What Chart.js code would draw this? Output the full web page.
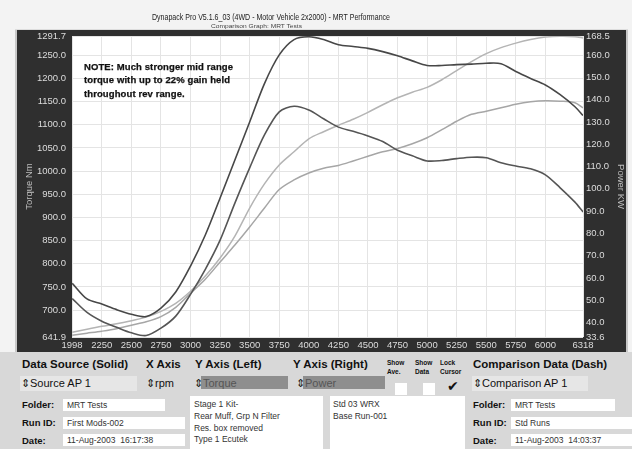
<!DOCTYPE html>
<html><head><meta charset="utf-8">
<script src="https://cdn.jsdelivr.net/npm/chart.js@4.4.0/dist/chart.umd.min.js"></script>
<style>
html,body{margin:0;padding:0;width:632px;height:449px;overflow:hidden;background:#f3f3f3;font-family:"Liberation Sans",Arial,sans-serif;}
#wrap{position:relative;width:632px;height:449px;}
#c{position:absolute;left:0;top:0;}
.t{position:absolute;white-space:nowrap;line-height:1;color:#111;}
.b{font-weight:bold;}
.box{position:absolute;background:#fff;}
.lbox{position:absolute;background:#e6e6e6;}
.gbox{position:absolute;background:#8e8e8e;}
#panel{position:absolute;left:0;top:352px;width:632px;height:97px;background:#d8d8d8;}
.sq{position:absolute;background:#fff;width:12px;height:12px;}
.sc{display:inline-block;transform-origin:0 50%;}
</style></head>
<body><div id="wrap">
<canvas id="c" width="632" height="449"></canvas>

<div class="t" id="ttl" style="left:152px;top:11.5px;font-size:9.5px;color:#222;"><span class="sc" data-w="238">Dynapack Pro V5.1.6_03 (4WD - Motor Vehicle 2x2000) - MRT Performance</span></div>
<div class="t" id="sub" style="left:211px;top:23.5px;font-size:5.5px;color:#444;"><span class="sc" data-w="91">Comparison Graph: MRT Tests</span></div>

<div class="t b" style="left:84px;top:60px;font-size:9.5px;line-height:13.3px;color:#111;letter-spacing:0.1px;-webkit-text-stroke:0.25px #111;">NOTE: Much stronger mid range<br>torque with up to 22% gain held<br>throughout rev range.</div>

<div id="panel"></div>
<!-- row 1 headings -->
<div class="t b" style="left:22px;top:359px;font-size:11.5px;">Data Source (Solid)</div>
<div class="t b" style="left:146px;top:359px;font-size:11.5px;">X Axis</div>
<div class="t b" style="left:195px;top:359px;font-size:11.5px;">Y Axis (Left)</div>
<div class="t b" style="left:293px;top:359px;font-size:11.5px;">Y Axis (Right)</div>
<div class="t b" style="left:387px;top:358px;font-size:6.5px;line-height:9px;">Show<br>Ave.</div>
<div class="t b" style="left:415px;top:358px;font-size:6.5px;line-height:9px;">Show<br>Data</div>
<div class="t b" style="left:440px;top:358px;font-size:6.5px;line-height:9px;">Lock<br>Cursor</div>
<div class="t b" style="left:473px;top:359px;font-size:11.5px;">Comparison Data (Dash)</div>
<!-- row 2 -->
<div class="lbox" style="left:20px;top:376px;width:117px;height:15px;"></div>
<div class="t" style="left:21px;top:378px;font-size:11px;">⇕Source AP 1</div>
<div class="t" style="left:146px;top:378px;font-size:11px;">⇕rpm</div>
<div class="gbox" style="left:201px;top:376px;width:87px;height:13px;"></div>
<div class="t" style="left:194px;top:378px;font-size:11px;"><span>⇕</span><span style="color:#555;">Torque</span></div>
<div class="gbox" style="left:303px;top:376px;width:82px;height:13px;"></div>
<div class="t" style="left:296px;top:378px;font-size:11px;"><span>⇕</span><span style="color:#555;">Power</span></div>
<div class="sq" style="left:395px;top:383px;"></div>
<div class="sq" style="left:423px;top:383px;"></div>
<div class="t" style="left:447px;top:379px;font-size:14px;font-family:'DejaVu Sans';color:#111;">✔</div>
<div class="lbox" style="left:472px;top:376px;width:116px;height:15px;"></div>
<div class="t" style="left:473px;top:378px;font-size:11px;">⇕Comparison AP 1</div>
<!-- left info -->
<div class="t b" style="left:22px;top:400px;font-size:9.5px;">Folder:</div>
<div class="box" style="left:63px;top:399px;width:102px;height:12px;"></div>
<div class="t" style="left:67px;top:401px;font-size:8.5px;color:#333;">MRT Tests</div>
<div class="t b" style="left:22px;top:418px;font-size:9.5px;">Run ID:</div>
<div class="box" style="left:63px;top:417px;width:122px;height:12px;"></div>
<div class="t" style="left:67px;top:419px;font-size:8.5px;color:#333;">First Mods-002</div>
<div class="t b" style="left:22px;top:436px;font-size:9.5px;">Date:</div>
<div class="box" style="left:63px;top:434px;width:122px;height:12px;"></div>
<div class="t" style="left:67px;top:436px;font-size:8.5px;color:#333;">11-Aug-2003&nbsp; 16:17:38</div>
<!-- notes boxes -->
<div class="box" style="left:190px;top:396px;width:133px;height:53px;"></div>
<div class="t" style="left:194px;top:399px;font-size:8.5px;line-height:11.8px;color:#333;">Stage 1 Kit-<br>Rear Muff, Grp N Filter<br>Res. box removed<br>Type 1 Ecutek</div>
<div class="box" style="left:330px;top:396px;width:135px;height:53px;"></div>
<div class="t" style="left:333px;top:399px;font-size:8.5px;line-height:11.8px;color:#333;">Std 03 WRX<br>Base Run-001</div>
<!-- right info -->
<div class="t b" style="left:473px;top:400px;font-size:9.5px;">Folder:</div>
<div class="box" style="left:511px;top:399px;width:104px;height:12px;"></div>
<div class="t" style="left:515px;top:401px;font-size:8.5px;color:#333;">MRT Tests</div>
<div class="t b" style="left:473px;top:418px;font-size:9.5px;">Run ID:</div>
<div class="box" style="left:511px;top:417px;width:121px;height:12px;"></div>
<div class="t" style="left:515px;top:419px;font-size:8.5px;color:#333;">Std Runs</div>
<div class="t b" style="left:473px;top:436px;font-size:9.5px;">Date:</div>
<div class="box" style="left:511px;top:434px;width:121px;height:12px;"></div>
<div class="t" style="left:515px;top:436px;font-size:8.5px;color:#333;">11-Aug-2003&nbsp; 14:03:37</div>
</div>
<script>
// ---- data ----
const rpm = [2000,2125,2250,2375,2500,2625,2750,2875,3000,3125,3250,3375,3500,3625,3750,3875,4000,4125,4250,4375,4500,4625,4750,4875,5000,5125,5250,5375,5500,5625,5750,5875,6000,6125,6250,6318];
const torqueSource = [758,724,713,701,691,686,704,739,795,862,942,1024,1106,1189,1251,1284,1290,1284,1273,1269,1265,1258,1249,1238,1228,1228,1230,1231,1233,1232,1215,1200,1186,1165,1139,1120];
const torqueComp = [725,695,676,663,651,645,661,687,734,788,851,931,1007,1078,1128,1140,1132,1113,1095,1086,1076,1064,1045,1033,1022,1023,1027,1030,1029,1018,1011,1005,992,964,933,912];
const powerSource = [35.7,37.1,38.4,39.5,40.9,42.5,45.1,48.7,54.1,60.9,69.0,78.8,91.4,102.2,110.7,116.6,122.4,125.6,128.5,131.2,134.3,137.7,140.8,143.3,145.5,148.9,153.0,157.0,160.6,163.3,165.3,166.9,168.0,168.4,168.2,167.6];
const powerComp = [34.4,35.3,36.2,37.3,38.9,40.4,42.7,46.9,53.2,59.5,67.2,74.8,82.9,91.4,99.7,104.0,107.1,109.2,110.5,112.5,114.6,116.6,118.1,120.2,122.9,126.5,130.3,133.4,134.8,136.3,137.9,139.0,139.5,139.3,138.6,136.3];
const xTicks = [1998,2250,2500,2750,3000,3250,3500,3750,4000,4250,4500,4750,5000,5250,5500,5750,6000,6318];
const leftTicks = [641.9,700,750,800,850,900,950,1000,1050,1100,1150,1200,1250,1291.7];
const rightTicks = [33.6,40,50,60,70,80,90,100,110,120,130,140,150,160,168.5];

// fit condensed titles
document.querySelectorAll('.sc').forEach(s=>{
  const w = s.getBoundingClientRect().width;
  s.style.transform = 'scaleX(' + (parseFloat(s.dataset.w)/w) + ')';
});

const framePlugin = {
  id:'frame',
  beforeDraw(chart){
    const {ctx, chartArea:a} = chart;
    ctx.save();
    ctx.fillStyle = '#c8c8c8';
    ctx.fillRect(a.left-57, a.top-6.5, (a.right+45)-(a.left-57), (a.bottom+17)-(a.top-6.5));
    ctx.fillStyle = '#2f2f2f';
    ctx.fillRect(a.left-55, a.top-6, (a.right+43)-(a.left-55), (a.bottom+15.5)-(a.top-6));
    ctx.fillStyle = '#ffffff';
    ctx.fillRect(a.left, a.top, a.right-a.left, a.bottom-a.top);
    ctx.restore();
  }
};

const pts = arr => rpm.map((r,i)=>({x:r, y:arr[i]}));
const tickFont = {family:'"Liberation Sans", Arial, sans-serif', size:9.5};

new Chart(document.getElementById('c'), {
  type:'line',
  data:{datasets:[
    {label:'Torque (Source)', data:pts(torqueSource), yAxisID:'yL', borderColor:'#474747', borderWidth:1.6},
    {label:'Torque (Comparison)', data:pts(torqueComp), yAxisID:'yL', borderColor:'#555555', borderWidth:1.6},
    {label:'Power (Source)', data:pts(powerSource), yAxisID:'yR', borderColor:'#b4b4b4', borderWidth:1.5},
    {label:'Power (Comparison)', data:pts(powerComp), yAxisID:'yR', borderColor:'#a6a6a6', borderWidth:1.5}
  ]},
  options:{
    responsive:false, animation:false,
    layout:{padding:{left:0,right:0,top:36,bottom:96}},
    elements:{point:{radius:0}, line:{tension:0.3, fill:false}},
    plugins:{legend:{display:false}, tooltip:{enabled:false}},
    scales:{
      x:{type:'linear', min:1998, max:6318, position:'bottom',
        afterBuildTicks:s=>{s.ticks = xTicks.map(v=>({value:v}));},
        afterFit:s=>{s.height = 16;},
        border:{display:false},
        grid:{color:'#e4e4e4', drawTicks:false, lineWidth:1},
        ticks:{autoSkip:false, maxRotation:0, color:'#dcdcdc', font:tickFont, padding:3, callback:v=>String(v)}
      },
      yL:{type:'linear', position:'left', min:641.9, max:1291.7,
        afterBuildTicks:s=>{s.ticks = leftTicks.map(v=>({value:v}));},
        afterFit:s=>{s.width = 72;},
        border:{display:false},
        grid:{color:'#e4e4e4', drawTicks:false, lineWidth:1},
        ticks:{autoSkip:false, color:'#dcdcdc', font:tickFont, padding:6, callback:v=>v.toFixed(1)},
        title:{display:true, text:'Torque Nm', color:'#bdbdbd', font:{family:'"Liberation Sans", Arial, sans-serif', size:9.5}, padding:{top:24,bottom:0}}
      },
      yR:{type:'linear', position:'right', min:33.6, max:168.5,
        afterBuildTicks:s=>{s.ticks = rightTicks.map(v=>({value:v}));},
        afterFit:s=>{s.width = 49;},
        border:{display:false},
        grid:{display:false, drawTicks:false},
        ticks:{autoSkip:false, color:'#dcdcdc', font:tickFont, padding:3, callback:v=>v.toFixed(1)},
        title:{display:true, text:'Power KW', color:'#bdbdbd', font:{family:'"Liberation Sans", Arial, sans-serif', size:9.5}, padding:{top:6,bottom:0}}
      }
    }
  },
  plugins:[framePlugin]
});
</script>
</body></html>
